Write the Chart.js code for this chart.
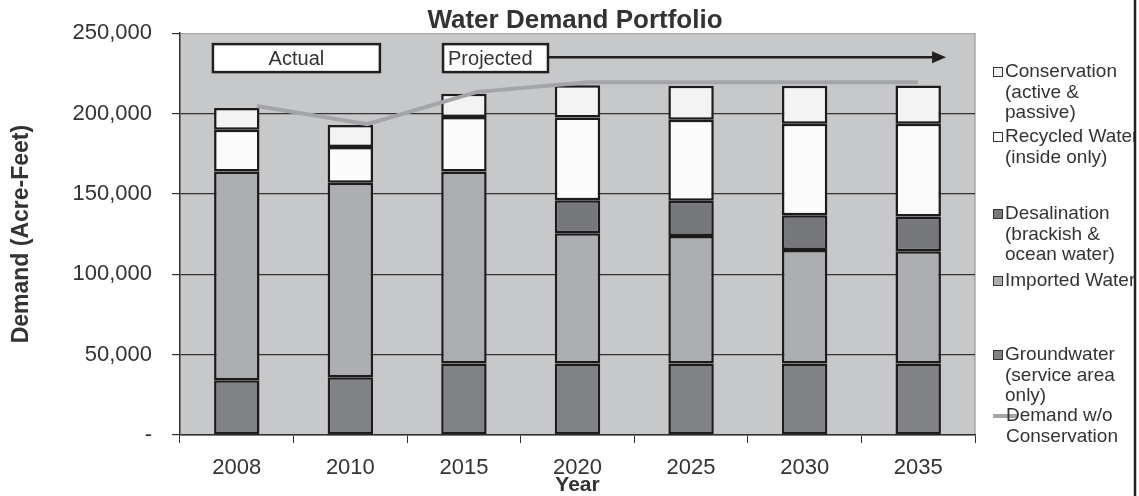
<!DOCTYPE html>
<html>
<head>
<meta charset="utf-8">
<title>Water Demand Portfolio</title>
<script src="https://cdn.jsdelivr.net/npm/chart.js@4.4.0/dist/chart.umd.min.js"></script>
<style>
  html, body { margin: 0; padding: 0; background: #fff; }
</style>
</head>
<body>
<canvas id="myChart" width="1139" height="496"></canvas>
<script>
// data (acre-feet)
var years = ['2008', '2010', '2015', '2020', '2025', '2030', '2035'];
var groundwater  = [34000, 36000, 44500, 44500, 44500, 44500, 44500];
var imported     = [130000, 121000, 119500, 81000, 79300, 70600, 69800];
var desalination = [null, null, null, 20500, 21900, 21700, 21700];
var recycled     = [26000, 22200, 33800, 51500, 50500, 56900, 57600];
var conservation = [13400, 13700, 14600, 20100, 21100, 23600, 23800];
var demandNoCons = [204700, 193400, 213500, 219500, 219500, 219500, 219500];
var yTicks = [0, 50000, 100000, 150000, 200000, 250000];

var FONT = "'Liberation Sans', Arial, sans-serif";
var INK = '#333333';

// legend text, one entry per line
var legendRows = [
    { lines: ['Conservation', '(active &', 'passive)'], color: '#f3f3f3', y: 72 },
    { lines: ['Recycled Water', '(inside only)'], color: '#fbfbfb', y: 137 },
    { lines: ['Desalination', '(brackish &', 'ocean water)'], color: '#77787c', y: 214 },
    { lines: ['Imported Water'], color: '#adaeb1', y: 281 },
    { lines: ['Groundwater', '(service area', 'only)'], color: '#818286', y: 355 },
    { lines: ['Demand w/o', 'Conservation'], color: '#a4a5a8', y: 416, line: true }
];

function bar(label, values, color) {
    return {
        type: 'bar',
        label: label,
        data: values,
        backgroundColor: color,
        borderColor: '#1e1b1c',
        borderWidth: 2.5,
        borderSkipped: false,
        grouped: false,
        barPercentage: 0.4,
        categoryPercentage: 1.0
    };
}

const decor = {
    id: 'decor',
    beforeDraw(chart) {
        const ctx = chart.ctx, a = chart.chartArea;
        ctx.save();
        ctx.fillStyle = '#c7c8ca';
        ctx.fillRect(a.left, a.top, a.right - a.left, a.bottom - a.top);
        ctx.strokeStyle = '#a9a9a9';
        ctx.lineWidth = 1.5;
        ctx.beginPath();
        ctx.moveTo(a.right, a.top);
        ctx.lineTo(a.right, a.bottom);
        ctx.stroke();
        ctx.restore();
    },
    afterDraw(chart) {
        const ctx = chart.ctx;
        const x = chart.scales.x, y = chart.scales.y;
        ctx.save();

        // title
        ctx.fillStyle = INK;
        ctx.font = 'bold 26px ' + FONT;
        ctx.textAlign = 'center';
        ctx.textBaseline = 'alphabetic';
        ctx.fillText('Water Demand Portfolio', 575, 28);

        // Actual / Projected boxes
        const top = y.getPixelForValue(243200), bot = y.getPixelForValue(225800);
        ctx.lineWidth = 2.5;
        ctx.strokeStyle = '#231f20';
        ctx.font = '20px ' + FONT;
        ctx.textBaseline = 'middle';

        let l = x.getPixelForValue(-0.21), r = x.getPixelForValue(1.26);
        ctx.fillStyle = '#fff';
        ctx.fillRect(l, top, r - l, bot - top);
        ctx.strokeRect(l, top, r - l, bot - top);
        ctx.fillStyle = INK;
        ctx.textAlign = 'center';
        ctx.fillText('Actual', (l + r) / 2, (top + bot) / 2 + 1);

        l = x.getPixelForValue(1.816); r = x.getPixelForValue(2.74);
        ctx.fillStyle = '#fff';
        ctx.fillRect(l, top, r - l, bot - top);
        ctx.strokeRect(l, top, r - l, bot - top);
        ctx.fillStyle = INK;
        ctx.textAlign = 'left';
        ctx.fillText('Projected', l + 5, (top + bot) / 2 + 1);

        // arrow
        const ay = y.getPixelForValue(235100), tip = x.getPixelForValue(6.245);
        ctx.beginPath();
        ctx.moveTo(r, ay);
        ctx.lineTo(tip - 10, ay);
        ctx.stroke();
        ctx.fillStyle = '#231f20';
        ctx.beginPath();
        ctx.moveTo(tip - 14, ay - 6);
        ctx.lineTo(tip, ay);
        ctx.lineTo(tip - 14, ay + 6);
        ctx.closePath();
        ctx.fill();

        // legend
        ctx.font = '19px ' + FONT;
        ctx.textAlign = 'left';
        ctx.textBaseline = 'middle';
        legendRows.forEach(function (row) {
            if (row.line) {
                ctx.strokeStyle = row.color;
                ctx.lineWidth = 4;
                ctx.beginPath();
                ctx.moveTo(993, row.y);
                ctx.lineTo(1018, row.y);
                ctx.stroke();
            } else {
                ctx.fillStyle = row.color;
                ctx.fillRect(993.5, row.y - 4.5, 9, 9);
                ctx.strokeStyle = INK;
                ctx.lineWidth = 1;
                ctx.strokeRect(993.5, row.y - 4.5, 9, 9);
            }
            ctx.fillStyle = INK;
            row.lines.forEach(function (t, i) {
                ctx.fillText(t, row.line ? 1006 : 1005, row.y + i * 20.5);
            });
        });

        // right frame edge
        ctx.fillStyle = '#fff';
        ctx.fillRect(1136, 0, 3, 496);
        ctx.strokeStyle = '#222';
        ctx.lineWidth = 2.5;
        ctx.beginPath();
        ctx.moveTo(1135, 0);
        ctx.lineTo(1135, 496);
        ctx.stroke();
        ctx.restore();
    }
};

const data = {
    labels: years,
    datasets: [
        {
            type: 'line',
            label: 'Demand w/o Conservation',
            xAxisID: 'x2',
            data: demandNoCons.map(function (v, i) { return { x: i, y: v }; }),
            borderColor: '#a4a5a8',
            borderWidth: 4,
            pointRadius: 0,
            tension: 0,
            fill: false
        },
        bar('Groundwater (service area only)', groundwater, '#818286'),
        bar('Imported Water', imported, '#adaeb1'),
        bar('Desalination (brackish & ocean water)', desalination, '#77787c'),
        bar('Recycled Water (inside only)', recycled, '#fbfbfb'),
        bar('Conservation (active & passive)', conservation, '#f3f3f3')
    ]
};

const config = {
    type: 'bar',
    data,
    plugins: [decor],
    options: {
        responsive: false,
        animation: false,
        layout: { padding: { left: 0, top: 32, right: 164, bottom: 0 } },
        plugins: {
            legend: { display: false },
            tooltip: { enabled: false }
        },
        scales: {
            x: {
                stacked: true,
                offset: true,
                afterFit: function (s) { s.height = 61; },
                grid: {
                    drawOnChartArea: false,
                    drawTicks: true,
                    tickLength: 8,
                    tickColor: INK,
                    offset: true
                },
                border: { color: INK, width: 1.5 },
                ticks: { color: INK, padding: 12, font: { family: FONT, size: 22 } },
                title: {
                    display: true,
                    text: 'Year',
                    color: INK,
                    padding: { top: 0, bottom: -2 },
                    font: { family: FONT, size: 21, weight: 'bold' }
                }
            },
            x2: {
                type: 'linear',
                display: false,
                offset: false,
                bounds: 'data',
                grid: { offset: false },
                min: -0.699,
                max: 6.517
            },
            y: {
                stacked: true,
                min: 0,
                max: 250000,
                afterFit: function (s) { s.width = 180; },
                afterBuildTicks: function (s) {
                    s.ticks = yTicks.map(function (v) { return { value: v }; });
                },
                grid: {
                    color: function (c) { return c.tick && c.tick.value === 250000 ? '#a9a9a9' : INK; },
                    lineWidth: 1.2,
                    tickLength: 8,
                    tickColor: INK
                },
                border: { color: INK, width: 1.5 },
                ticks: {
                    color: INK,
                    padding: 20,
                    font: { family: FONT, size: 22 },
                    callback: function (v) { return v === 0 ? '-' : v.toLocaleString('en-US'); }
                },
                title: {
                    display: true,
                    text: 'Demand (Acre-Feet)',
                    color: INK,
                    padding: { top: 8, bottom: 0 },
                    font: { family: FONT, size: 23, weight: 'bold' }
                }
            }
        }
    }
};

const myChart = new Chart(document.getElementById('myChart'), config);
</script>
</body>
</html>
